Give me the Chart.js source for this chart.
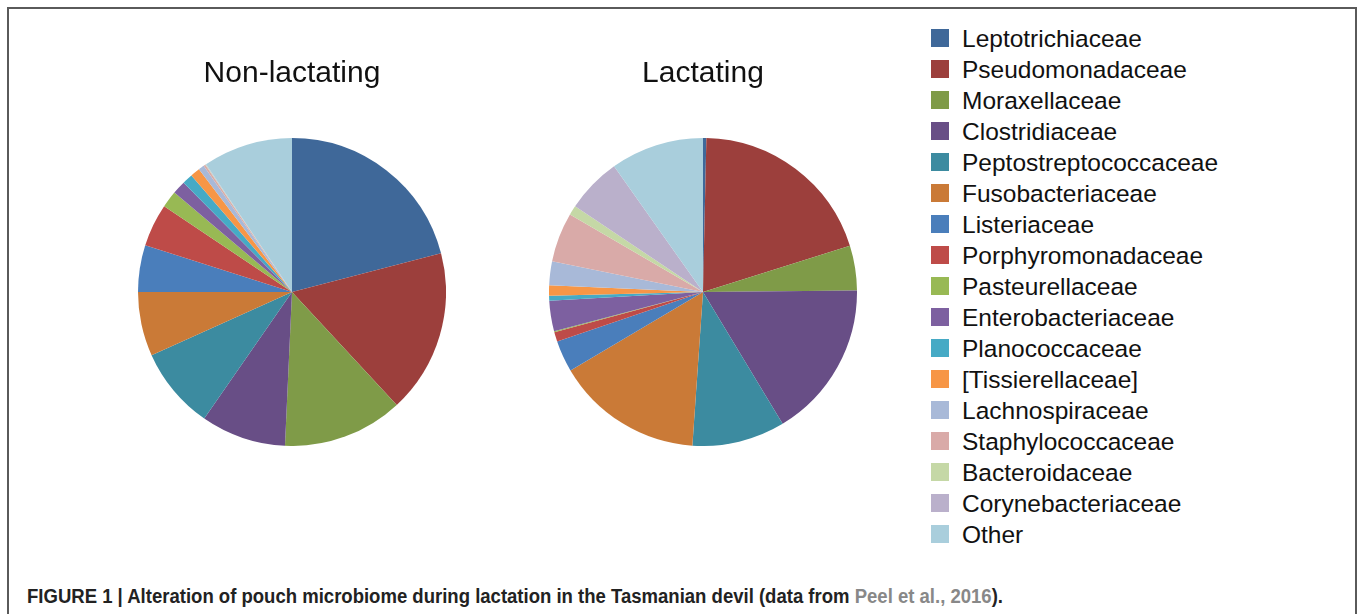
<!DOCTYPE html>
<html>
<head>
<meta charset="utf-8">
<script src="https://cdn.jsdelivr.net/npm/chart.js@4.4.1/dist/chart.umd.min.js"></script>
<style>
  body { margin: 0; background: #fff; width: 1358px; height: 614px; overflow: hidden; position: relative;
         font-family: "Liberation Sans", Arial, sans-serif; }
  #frame { position: absolute; left: 7px; top: 7px; width: 1346px; height: 620px;
           border: 2px solid #5a5a5a; border-bottom: none; }
  canvas { position: absolute; }
  #legend { position: absolute; left: 0; top: 0; }
  .row { position: absolute; height: 31px; line-height: 31px; font-size: 24.5px; color: #111; white-space: nowrap; }
  .sw { position: absolute; width: 18px; height: 18px; }
  #caption { position: absolute; left: 27px; top: 587px; font-size: 19.5px; line-height: 19px; font-weight: bold;
             color: #222; white-space: nowrap; transform-origin: 0 0; }
  #caption .ref { color: #888; }
</style>
</head>
<body>
<div id="frame"></div>
<canvas id="nonLact" width="308" height="406" style="left:138px; top:40px; width:308px; height:406px;"></canvas>
<canvas id="lact" width="308" height="406" style="left:549px; top:40px; width:308px; height:406px;"></canvas>
<div id="legend"></div>
<div id="caption">FIGURE 1 | Alteration of pouch microbiome during lactation in the Tasmanian devil (data from <span class="ref">Peel et al., 2016</span>).</div>

<script>
const families = [
    "Leptotrichiaceae", "Pseudomonadaceae", "Moraxellaceae", "Clostridiaceae",
    "Peptostreptococcaceae", "Fusobacteriaceae", "Listeriaceae", "Porphyromonadaceae",
    "Pasteurellaceae", "Enterobacteriaceae", "Planococcaceae", "[Tissierellaceae]",
    "Lachnospiraceae", "Staphylococcaceae", "Bacteroidaceae", "Corynebacteriaceae", "Other"
];

// relative abundance (%)
const nonLactating = [20.9, 17.1, 12.6, 8.9, 8.6, 6.7, 4.9, 4.5, 1.75, 1.4, 1.1, 1.0, 0.6, 0.2, 0.05, 0.05, 9.4];
const lactating    = [0.35, 19.8, 4.7, 16.5, 9.75, 15.4, 3.3, 1.0, 0.1, 3.2, 0.5, 1.1, 2.5, 5.2, 1.0, 5.8, 9.8];

const colors = [
    "#3f6899", "#9c3f3c", "#7f9b48", "#684e86", "#3c8ba0", "#ca7a37", "#4a7ebb", "#be4b48",
    "#98b954", "#7d60a0", "#46aac5", "#f79646", "#a8b9d8", "#d9aaa8", "#c5d8a6", "#bab0cb", "#a9cedc"
];

function makePie(id, title, values) {
    new Chart(document.getElementById(id), {
        type: "pie",
        data: {
            labels: families,
            datasets: [{
                data: values,
                backgroundColor: colors,
                borderWidth: 0,
                hoverOffset: 0
            }]
        },
        options: {
            responsive: false,
            animation: false,
            events: [],
            layout: { padding: 0 },
            plugins: {
                legend: { display: false },
                tooltip: { enabled: false },
                title: {
                    display: true,
                    text: title,
                    color: "#111",
                    font: { family: "Liberation Sans", size: 30, weight: "normal", lineHeight: 1.2 },
                    padding: { top: 16, bottom: 46 }
                }
            }
        }
    });
}

makePie("nonLact", "Non-lactating", nonLactating);
makePie("lact", "Lactating", lactating);

// legend shared by both pies
const legend = document.getElementById("legend");
families.forEach((name, i) => {
    const top = 23 + i * 31;
    const sw = document.createElement("div");
    sw.className = "sw";
    sw.style.left = "931px";
    sw.style.top = (top + 6) + "px";
    sw.style.background = colors[i];
    legend.appendChild(sw);
    const row = document.createElement("div");
    row.className = "row";
    row.style.left = "962px";
    row.style.top = top + "px";
    row.textContent = name;
    legend.appendChild(row);
});

// squeeze caption to the narrow width of the original
const cap = document.getElementById("caption");
const w = cap.getBoundingClientRect().width;
cap.style.transform = "scaleX(" + (976 / w) + ")";
</script>
</body>
</html>
